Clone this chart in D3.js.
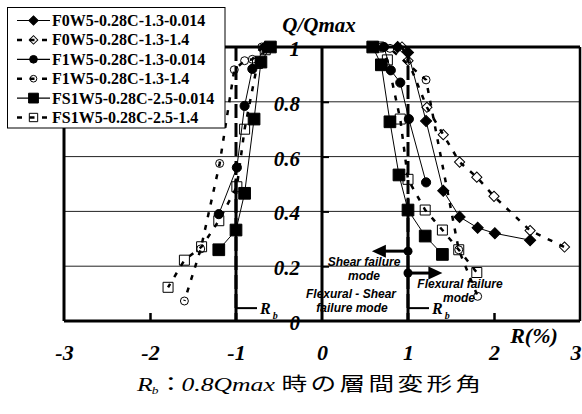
<!DOCTYPE html>
<html>
<head>
<meta charset="utf-8">
<script src="https://cdn.jsdelivr.net/npm/d3@7"></script>
<style>
  body { margin: 0; background: #fff; }
  svg { display: block; }
</style>
</head>
<body>
<svg id="chart" width="582" height="414"></svg>
<script>
// ---- data: story drift R (%) vs normalised shear Q/Qmax ----
const xTicks = [-3, -2, -1, 0, 1, 2, 3];
const yTicks = [0, 0.2, 0.4, 0.6, 0.8, 1];
const gridValues = [0.2, 0.4, 0.6, 0.8];

const seriesNames = [
  "F0W5-0.28C-1.3-0.014",
  "F0W5-0.28C-1.3-1.4",
  "F1W5-0.28C-1.3-0.014",
  "F1W5-0.28C-1.3-1.4",
  "FS1W5-0.28C-2.5-0.014",
  "FS1W5-0.28C-2.5-1.4"
];

// [R, Q/Qmax] — negative and positive loading branches
const f0_014_neg = [];
const f0_014_pos = [[0.88, 1.0], [1.0, 0.98], [1.21, 0.73], [1.41, 0.475], [1.60, 0.38], [1.81, 0.34], [2.01, 0.32], [2.42, 0.295]];
const f0_14_neg = [];
const f0_14_pos = [[0.93, 1.0], [1.0, 0.95], [1.22, 0.78], [1.41, 0.68], [1.60, 0.58], [1.80, 0.525], [2.0, 0.455], [2.42, 0.33], [2.82, 0.27]];
const f1_014_neg = [[-0.66, 1.0], [-0.81, 0.92], [-0.90, 0.785], [-0.99, 0.56], [-1.20, 0.39]];
const f1_014_pos = [[0.72, 1.0], [0.80, 0.915], [0.91, 0.87], [1.01, 0.737], [1.21, 0.506]];
const f1_14_neg = [[-0.70, 1.0], [-0.81, 0.955], [-0.90, 0.95], [-1.02, 0.917], [-1.19, 0.575], [-1.41, 0.263], [-1.60, 0.073]];
const f1_14_pos = [[0.69, 1.0], [0.79, 0.995], [1.21, 0.88], [1.59, 0.26], [1.81, 0.09]];
const fs1_014_neg = [[-0.60, 1.0], [-0.71, 0.945], [-0.79, 0.737], [-0.90, 0.466], [-1.0, 0.332], [-1.20, 0.26]];
const fs1_014_pos = [[0.59, 1.0], [0.69, 0.935], [0.79, 0.727], [0.895, 0.533], [1.0, 0.405], [1.20, 0.31], [1.40, 0.243]];
const fs1_14_neg = [[-0.66, 0.99], [-0.75, 0.94], [-0.90, 0.70], [-0.99, 0.49], [-1.20, 0.366], [-1.40, 0.271], [-1.60, 0.222], [-1.79, 0.123]];
const fs1_14_pos = [[0.66, 1.0], [0.76, 0.953], [0.91, 0.737], [1.0, 0.517], [1.20, 0.405], [1.40, 0.332], [1.59, 0.26], [1.80, 0.177]];

// failure-mode boundary: reference drift and arrow levels
const rbDrift = [-1, 1];
const rbSolidTop = [0.52, 0.45];
const rbLabelLevel = 0.047;
const shearArrow = { from: 1, to: 0.58, level: 0.255 };
const flexArrow = { from: 1, to: 1.40, level: 0.175 };

// ---- presentation ----
const styles = [
  { shape: "diamond", filled: true,  dashed: false },
  { shape: "diamond", filled: false, dashed: true },
  { shape: "circle",  filled: true,  dashed: false },
  { shape: "circle",  filled: false, dashed: true },
  { shape: "square",  filled: true,  dashed: false },
  { shape: "square",  filled: false, dashed: true }
];
const branches = [
  [f0_014_neg, f0_014_pos], [f0_14_neg, f0_14_pos],
  [f1_014_neg, f1_014_pos], [f1_14_neg, f1_14_pos],
  [fs1_014_neg, fs1_014_pos], [fs1_14_neg, fs1_14_pos]
];
const series = seriesNames.map((name, i) => ({ name, branches: branches[i], ...styles[i] }));

const svg = d3.select("#chart");
const x = d3.scaleLinear().domain([-3, 3]).range([64, 580]);
const y = d3.scaleLinear().domain([0, 1]).range([321, 47]);

const SERIF = "'Liberation Serif', 'Times New Roman', serif";
const SANS = "'Liberation Sans', Arial, sans-serif";
const DASH = "5,8";

// horizontal grid
svg.append("g").selectAll("line").data(gridValues).join("line")
  .attr("x1", x(-3)).attr("x2", x(3))
  .attr("y1", d => y(d)).attr("y2", d => y(d))
  .attr("stroke", "#222").attr("stroke-width", 1);

// plot frame and zero axis
const frame = svg.append("g").attr("stroke", "#000").attr("fill", "none");
frame.append("line").attr("x1", x(-3)).attr("x2", x(3)).attr("y1", y(1)).attr("y2", y(1)).attr("stroke-width", 3);
frame.append("line").attr("x1", x(-3)).attr("x2", x(3)).attr("y1", y(0)).attr("y2", y(0)).attr("stroke-width", 3);
frame.append("line").attr("x1", x(-3)).attr("x2", x(-3)).attr("y1", y(1)).attr("y2", y(0)).attr("stroke-width", 3);
frame.append("line").attr("x1", x(3)).attr("x2", x(3)).attr("y1", y(1)).attr("y2", y(0)).attr("stroke-width", 2.5);
frame.append("line").attr("x1", x(0)).attr("x2", x(0)).attr("y1", y(1)).attr("y2", y(0)).attr("stroke-width", 3);

// y axis labels on the zero line
const yAxis = d3.axisLeft(y).tickValues(yTicks).tickSize(0).tickPadding(22)
  .tickFormat(d => (d === 0 || d === 1) ? String(d) : d.toFixed(1));
svg.append("g").attr("transform", `translate(${x(0)},0)`).call(yAxis)
  .call(g => g.select(".domain").remove())
  .selectAll("text")
  .attr("font-family", SERIF).attr("font-weight", "bold").attr("font-style", "italic")
  .attr("font-size", 21).attr("fill", "#000").attr("dy", "0.4em");

// short ticks to the right of the zero line
svg.append("g").attr("transform", `translate(${x(0)},0)`)
  .call(d3.axisRight(y).tickValues(gridValues).tickSize(7).tickFormat(""))
  .call(g => g.select(".domain").remove())
  .selectAll("line").attr("stroke", "#000").attr("stroke-width", 2);

// x axis labels (the last one is kept inside the page edge)
svg.append("g").attr("transform", `translate(0,${y(0)})`)
  .call(d3.axisBottom(x).tickValues(xTicks).tickSize(0).tickFormat(d => String(d)))
  .call(g => g.select(".domain").remove())
  .selectAll("text")
  .attr("y", 31).attr("dy", "0.35em")
  .attr("text-anchor", d => d === 3 ? "end" : "middle")
  .attr("x", d => d === 3 ? 581 - x(3) : 0)
  .attr("font-family", SERIF).attr("font-weight", "bold").attr("font-style", "italic")
  .attr("font-size", 22).attr("fill", "#000");

// upward ticks at |R| = 2
svg.append("g").attr("transform", `translate(0,${y(0)})`)
  .call(d3.axisTop(x).tickValues([-2, 2]).tickSize(8).tickFormat(""))
  .call(g => g.select(".domain").remove())
  .selectAll("line").attr("stroke", "#000").attr("stroke-width", 2.5);

// axis titles
svg.append("text").attr("x", 319).attr("y", 32).attr("text-anchor", "middle")
  .attr("font-family", SERIF).attr("font-weight", "bold").attr("font-style", "italic")
  .attr("font-size", 21).text("Q/Qmax");
svg.append("text").attr("x", 534).attr("y", 343).attr("text-anchor", "middle")
  .attr("font-family", SERIF).attr("font-weight", "bold").attr("font-style", "italic")
  .attr("font-size", 22).text("R(%)");

// failure-mode notes
const notes = [
  { text: "Shear failure", cx: 364, by: 266 },
  { text: "mode", cx: 364, by: 280 },
  { text: "Flexural - Shear", cx: 351, by: 298 },
  { text: "failure mode", cx: 352, by: 312 },
  { text: "Flexural failure", cx: 460, by: 288 },
  { text: "mode", cx: 459, by: 302 }
];
svg.append("g").selectAll("text").data(notes).join("text")
  .attr("x", d => d.cx).attr("y", d => d.by).attr("text-anchor", "middle")
  .attr("font-family", SANS).attr("font-weight", "bold").attr("font-style", "italic")
  .attr("font-size", 12).text(d => d.text);

// reference drift lines at R = ±1
rbDrift.forEach((r, i) => {
  svg.append("line").attr("x1", x(r)).attr("x2", x(r)).attr("y1", y(1)).attr("y2", y(0))
    .attr("stroke", "#000").attr("stroke-width", 3).attr("stroke-dasharray", "14,5");
  svg.append("line").attr("x1", x(r)).attr("x2", x(r)).attr("y1", y(rbSolidTop[i])).attr("y2", y(0))
    .attr("stroke", "#000").attr("stroke-width", 3);
  svg.append("line").attr("x1", x(r)).attr("x2", x(r) + 21)
    .attr("y1", y(rbLabelLevel)).attr("y2", y(rbLabelLevel))
    .attr("stroke", "#000").attr("stroke-width", 2);
  const t = svg.append("text").attr("x", x(r) + 24).attr("y", y(rbLabelLevel) + 6)
    .attr("font-family", SERIF).attr("font-style", "italic").attr("font-weight", "bold").attr("font-size", 16);
  t.append("tspan").text("R");
  t.append("tspan").attr("dx", 2).attr("dy", 5).attr("font-size", 10).text("b");
});

// series curves
const line = d3.line().x(d => x(d[0])).y(d => y(d[1]));
series.forEach(s => {
  s.branches.filter(b => b.length).forEach(b => {
    svg.append("path").datum(b).attr("d", line)
      .attr("fill", "none").attr("stroke", "#000")
      .attr("stroke-width", s.dashed ? 2.5 : 1)
      .attr("stroke-dasharray", s.dashed ? DASH : null);
  });
});

// markers
function markerPath(shape, filled, scale) {
  const k = scale || 1;
  if (shape === "circle") return d3.symbol(d3.symbolCircle, (filled ? 66 : 50) * k)();
  if (shape === "square") return d3.symbol(d3.symbolSquare, (filled ? 137 : 100) * k)();
  return d3.symbol(d3.symbolSquare, (filled ? 62 : 52) * k)();
}
series.forEach(s => {
  const pts = s.branches.flat();
  svg.append("g").selectAll("path").data(pts).join("path")
    .attr("d", markerPath(s.shape, s.filled))
    .attr("transform", d => `translate(${x(d[0])},${y(d[1])})` + (s.shape === "diamond" ? " rotate(45)" : ""))
    .attr("fill", s.filled ? "#000" : "none")
    .attr("stroke", "#000").attr("stroke-width", 1);
});

// failure-mode arrows
[shearArrow, flexArrow].forEach(a => {
  const x0 = x(a.from), x1 = x(a.to), yy = y(a.level);
  const dir = Math.sign(x1 - x0);
  svg.append("line").attr("x1", x0).attr("x2", x1 - dir * 12).attr("y1", yy).attr("y2", yy)
    .attr("stroke", "#000").attr("stroke-width", 3);
  svg.append("path")
    .attr("d", `M${x1},${yy} L${x1 - dir * 14},${yy - 6.5} L${x1 - dir * 14},${yy + 6.5} Z`)
    .attr("fill", "#000");
  svg.append("circle").attr("cx", x0).attr("cy", yy).attr("r", 4.5).attr("fill", "#000");
});

// legend
const legend = svg.append("g");
legend.append("rect").attr("x", 7.5).attr("y", 7.5).attr("width", 217.5).attr("height", 120.5)
  .attr("fill", "#fff").attr("stroke", "#000").attr("stroke-width", 1);
series.forEach((s, i) => {
  const ly = 20.5 + i * 19.4;
  legend.append("line").attr("x1", 17).attr("x2", 50).attr("y1", ly).attr("y2", ly)
    .attr("stroke", "#000").attr("stroke-width", s.dashed ? 2.5 : 1.2)
    .attr("stroke-dasharray", s.dashed ? "5,7.5" : null);
  legend.append("path").attr("d", markerPath(s.shape, s.filled, 0.7))
    .attr("transform", `translate(33.5,${ly})` + (s.shape === "diamond" ? " rotate(45)" : ""))
    .attr("fill", s.filled ? "#000" : "none").attr("stroke", "#000").attr("stroke-width", 1);
  legend.append("text").attr("x", 52).attr("y", ly + 5.5)
    .attr("font-family", SERIF).attr("font-weight", "bold").attr("font-size", 16)
    .text(s.name);
});

// caption: definition of Rb
const cap = svg.append("g").attr("transform", "translate(137,391) scale(1.35,1)");
const capText = cap.append("text").attr("font-family", SERIF).attr("font-style", "italic").attr("font-size", 19);
capText.append("tspan").attr("x", 0).text("R");
capText.append("tspan").attr("x", 11).attr("dy", 3).attr("font-size", 10).text("b");
cap.append("text").attr("x", 15.5).attr("font-family", "'Noto Sans CJK JP', sans-serif").attr("font-size", 19).text("：");
cap.append("text").attr("x", 33).attr("font-family", SERIF).attr("font-style", "italic").attr("font-size", 19).text("0.8Qmax");
cap.append("text").attr("x", 107).attr("font-family", "'Noto Sans CJK JP', sans-serif").attr("font-size", 19)
  .attr("letter-spacing", 2.5).text("時の層間変形角");
</script>
</body>
</html>
